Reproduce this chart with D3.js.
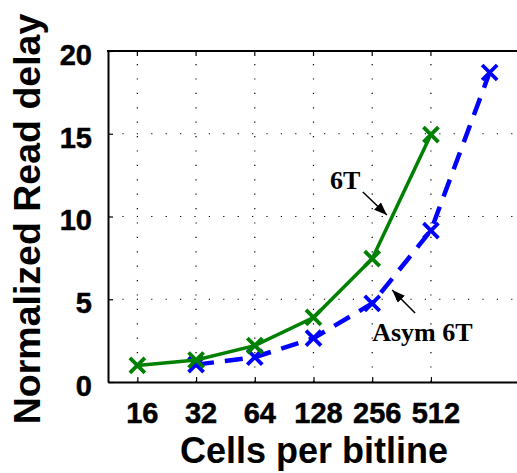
<!DOCTYPE html>
<html>
<head>
<meta charset="utf-8">
<script src="https://cdn.jsdelivr.net/npm/d3@7"></script>
<style>
  body { margin: 0; background: #fff; }
  svg { display: block; }
</style>
</head>
<body>
<svg id="chart"></svg>
<script>
// Data
var cells = [16, 32, 64, 128, 256, 512, 1024];
var tickLabels = ["16", "32", "64", "128", "256", "512"];
var yTicks = [0, 5, 10, 15, 20];
var delay6T = [1.0, 1.33, 2.2, 3.9, 7.45, 14.95];            // 16..512
var delayAsym = [null, 1.05, 1.5, 2.65, 4.75, 9.15, 18.7];   // 32..1024

var width = 517, height = 473;
var margin = { top: 51, right: -2, bottom: 91, left: 108 };

var svg = d3.select("#chart").attr("width", width).attr("height", height);

var x = d3.scaleLinear()
    .domain([0.5, 7.5])
    .range([margin.left, width - margin.right]);
var y = d3.scaleLinear()
    .domain([0, 20])
    .range([height - margin.bottom, margin.top]);

var x0 = x.range()[0], x1 = x.range()[1];
var y0 = y.range()[0], y1 = y.range()[1];

// Dotted grid
var grid = svg.append("g").attr("stroke", "#000").attr("stroke-width", 1.2)
    .attr("stroke-dasharray", "1.2,13.2");
grid.selectAll(".vg").data(d3.range(1, tickLabels.length + 1)).enter()
    .append("line")
    .attr("x1", function(d) { return x(d); })
    .attr("x2", function(d) { return x(d); })
    .attr("y1", y0).attr("y2", y1);
grid.selectAll(".hg").data(yTicks.slice(1, -1)).enter()
    .append("line")
    .attr("x1", x0).attr("x2", x1)
    .attr("y1", function(d) { return y(d); })
    .attr("y2", function(d) { return y(d); });

// Axes (inward ticks, MATLAB style)
var xAxis = d3.axisBottom(x)
    .tickValues(d3.range(1, tickLabels.length + 1))
    .tickFormat(function(d) { return tickLabels[d - 1]; })
    .tickSizeInner(-5).tickSizeOuter(0).tickPadding(20);
var gx = svg.append("g")
    .attr("transform", "translate(0," + y0 + ")")
    .call(xAxis);

var yAxis = d3.axisLeft(y)
    .tickValues(yTicks)
    .tickSizeInner(-5).tickSizeOuter(0).tickPadding(16);
var gy = svg.append("g")
    .attr("transform", "translate(" + x0 + ",0)")
    .call(yAxis);

[gx, gy].forEach(function(g) {
    g.select(".domain").attr("stroke", "#000").attr("stroke-width", 2);
    g.selectAll(".tick line").attr("stroke", "#000").attr("stroke-width", 1.2);
    g.selectAll(".tick text")
        .attr("fill", "#000")
        .attr("stroke", "#000")
        .attr("stroke-width", 0.5)
        .style("font-family", "'Liberation Sans', Arial, sans-serif")
        .style("font-weight", "bold")
        .style("font-size", "29px");
});
gx.selectAll(".tick text").attr("dx", 4.5);
gy.selectAll(".tick text").attr("dy", "0.46em");

// top border + top ticks
svg.append("line")
    .attr("x1", x0 - 1).attr("x2", x1)
    .attr("y1", y1).attr("y2", y1)
    .attr("stroke", "#000").attr("stroke-width", 2);
svg.append("g").selectAll("line").data(d3.range(1, tickLabels.length + 1)).enter()
    .append("line")
    .attr("x1", function(d) { return x(d); })
    .attr("x2", function(d) { return x(d); })
    .attr("y1", y1).attr("y2", y1 + 5)
    .attr("stroke", "#000").attr("stroke-width", 1.2);

// Lines
function pts(vals) {
    var out = [];
    vals.forEach(function(v, i) { if (v != null) out.push([i + 1, v]); });
    return out;
}
var line = d3.line()
    .x(function(d) { return x(d[0]); })
    .y(function(d) { return y(d[1]); });

var series = [
    { name: "Asym 6T", vals: pts(delayAsym), color: "#0000ff", width: 4.5, dash: "18,11" },
    { name: "6T", vals: pts(delay6T), color: "#008000", width: 3.5, dash: null }
];

series.forEach(function(s) {
    svg.append("path")
        .datum(s.vals)
        .attr("fill", "none")
        .attr("stroke", s.color)
        .attr("stroke-width", s.width)
        .attr("stroke-dasharray", s.dash)
        .attr("d", line);
    var r = 7.5;
    var m = svg.append("g").selectAll("g").data(s.vals).enter().append("g")
        .attr("transform", function(d) { return "translate(" + x(d[0]) + "," + y(d[1]) + ")"; });
    m.append("path")
        .attr("d", "M" + (-r) + "," + (-r) + "L" + r + "," + r + "M" + (-r) + "," + r + "L" + r + "," + (-r))
        .attr("stroke", s.color)
        .attr("stroke-width", 3.8)
        .attr("fill", "none");
});

// Annotations
svg.append("defs").append("marker")
    .attr("id", "arrow")
    .attr("viewBox", "0 0 13 10")
    .attr("refX", 13).attr("refY", 5)
    .attr("markerWidth", 13).attr("markerHeight", 10)
    .attr("markerUnits", "userSpaceOnUse")
    .attr("orient", "auto")
  .append("path")
    .attr("d", "M0,0L13,5L0,10Z")
    .attr("fill", "#000");

var notes = [
    { text: "6T", tx: 4.28, ty: 11.64, ax: 4.84, ay: 11.48, bx: 5.25, by: 10.09 },
    { text: "Asym 6T", tx: 5.0, ty: 2.48, ax: 5.73, ay: 4.17, bx: 5.34, by: 5.56 }
];
notes.forEach(function(n) {
    svg.append("text")
        .attr("x", x(n.tx)).attr("y", y(n.ty))
        .style("font-family", "'Liberation Serif', 'Times New Roman', serif")
        .style("font-weight", "bold")
        .style("font-size", "26px")
        .text(n.text);
    svg.append("line")
        .attr("x1", x(n.ax)).attr("y1", y(n.ay))
        .attr("x2", x(n.bx)).attr("y2", y(n.by))
        .attr("stroke", "#000").attr("stroke-width", 1.5)
        .attr("marker-end", "url(#arrow)");
});

// Axis labels
svg.append("text")
    .attr("x", 314).attr("y", 463)
    .attr("text-anchor", "middle")
    .style("font-family", "'Liberation Sans', Arial, sans-serif")
    .style("font-weight", "bold")
    .style("font-size", "36px")
    .text("Cells per bitline");

svg.append("text")
    .attr("transform", "translate(40,219) rotate(-90)")
    .attr("text-anchor", "middle")
    .style("font-family", "'Liberation Sans', Arial, sans-serif")
    .style("font-weight", "bold")
    .style("font-size", "37.5px")
    .text("Normalized Read delay");
</script>
</body>
</html>
